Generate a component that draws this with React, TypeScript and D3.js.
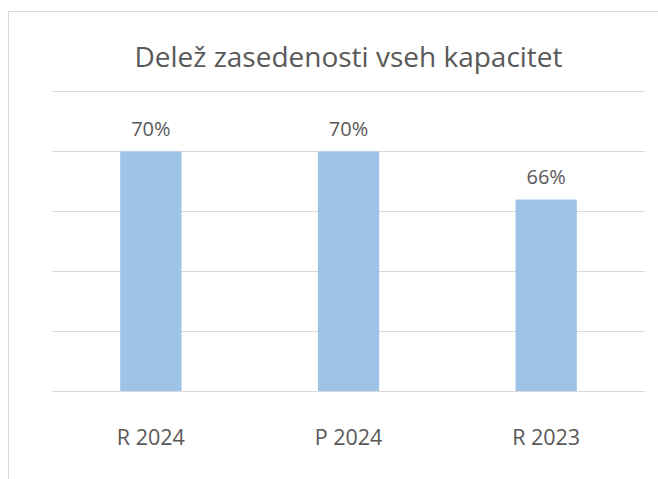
import React from "react";
import * as d3 from "d3";

const categories = ["R 2024", "P 2024", "R 2023"];
const values = [0.70, 0.70, 0.66];
const yTicks = [0.50, 0.55, 0.60, 0.65, 0.70, 0.75];
const title = "Delež zasedenosti vseh kapacitet";

const W = 658;
const H = 479;
const FONT = "'Open Sans', Lato, sans-serif";

export default function App() {
  const plotLeft = 52;
  const plotRight = 645;
  const plotTop = 91.5;
  const plotBottom = 391.5;

  const x = d3.scaleBand<string>().domain(categories).range([plotLeft, plotRight]).paddingInner(0.69).paddingOuter(0.345);
  const y = d3.scaleLinear().domain([0.5, 0.75]).range([plotBottom, plotTop]);
  const fmt = d3.format(".0%");

  return (
    <svg width={W} height={H} style={{ position: "absolute", left: 0, top: 0 }}>
      <rect x={0} y={0} width={W} height={H} fill="#ffffff" />
      <rect x={8.5} y={11.5} width={700} height={600} fill="#ffffff" stroke="#d9d9d9" strokeWidth={1} />
      <text x={(plotLeft + plotRight) / 2} y={67} textAnchor="middle" fontFamily={FONT} fontSize={28} fill="#595959">{title}</text>
      {yTicks.map((t) => (
        <line key={t} x1={plotLeft} x2={plotRight} y1={y(t)} y2={y(t)} stroke="#d9d9d9" strokeWidth={1} />
      ))}
      {categories.map((c, i) => (
        <g key={c}>
          <rect x={x(c)} y={y(values[i])} width={x.bandwidth()} height={plotBottom - y(values[i])} fill="#9dc3e6" />
          <text x={(x(c) as number) + x.bandwidth() / 2} y={y(values[i]) - 16} textAnchor="middle" fontFamily={FONT} fontSize={20} fill="#595959">{fmt(values[i])}</text>
          <text x={(x(c) as number) + x.bandwidth() / 2} y={445} textAnchor="middle" fontFamily={FONT} fontSize={21.5} fill="#595959">{c}</text>
        </g>
      ))}
      <line x1={plotLeft} x2={plotRight} y1={plotBottom} y2={plotBottom} stroke="#d9d9d9" strokeWidth={1} />
    </svg>
  );
}
